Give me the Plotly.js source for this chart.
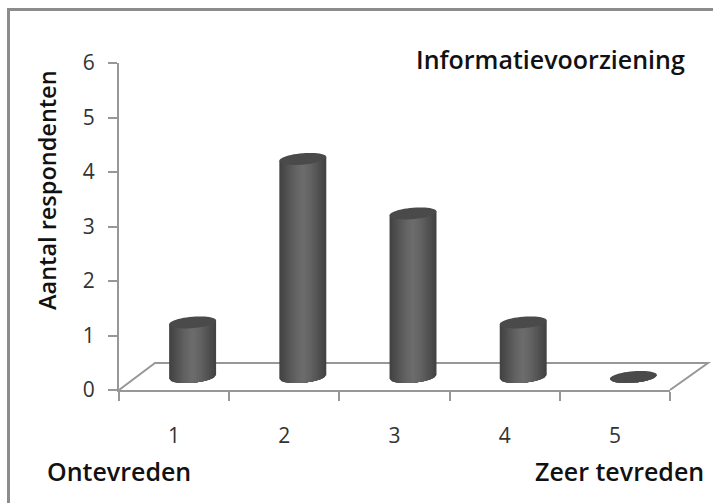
<!DOCTYPE html>
<html>
<head>
<meta charset="utf-8">
<script src="https://cdn.plot.ly/plotly-3.0.1.min.js"></script>
<style>html,body{margin:0;padding:0;background:#fff;overflow:hidden}</style>
</head>
<body>
<div id="chart" style="width:713px;height:503px"></div>
<script>
// Survey scores for the "Informatievoorziening" question
const categories = [1, 2, 3, 4, 5];
const respondents = [1, 4, 3, 1, 0];
const yTicks = [0, 1, 2, 3, 4, 5, 6];
const boundaries = [0.5, 1.5, 2.5, 3.5, 4.5, 5.5];
const chartTitle = 'Informatievoorziening';
const yTitle = 'Aantal respondenten';
const lowLabel = 'Ontevreden';
const highLabel = 'Zeer tevreden';

// Plot area in pixels
const W = 713, H = 503, L = 119, T = 63, PW = 551, PH = 327;
const px = v => (v - L) / PW;
const py = v => 1 - (v - T) / PH;

// Pseudo-3D geometry, in axis units
const DEPTH_X = 0.168, DEPTH_Y = 0.24;    // cylinders stand in the middle of the floor
const RX = 0.213, RY = 0.105, TILT = 0.035; // ellipse radii and slant
const AXIS = '#979797';
const FONT = '"Open Sans", sans-serif';
const shades = ['#434343', '#484848', '#4d4d4d', '#525252', '#575757', '#5c5c5c', '#616161', '#656565', '#686868', '#6b6b6b'];
const TOP_COLOR = '#4a4a4a';

const centers = categories.map(c => c + DEPTH_X);

// Cylinder wall clipped to the fraction w of its width: a lower arc and a slanted top edge
function wall(w) {
  const xs = [], ys = [];
  centers.forEach((cx, i) => {
    const top = respondents[i] + DEPTH_Y;
    for (let k = 0; k <= 24; k++) {
      const u = -w + 2 * w * k / 24;
      xs.push(cx + RX * u);
      ys.push(DEPTH_Y + TILT * u - RY * Math.sqrt(1 - u * u));
    }
    xs.push(cx + RX * w, cx - RX * w, cx + RX * -w, null);
    ys.push(top + TILT * w, top - TILT * w, DEPTH_Y - TILT * w, null);
  });
  return {x: xs, y: ys};
}

// Slanted ellipse closing each cylinder at the height of its value
function caps() {
  const xs = [], ys = [];
  centers.forEach((cx, i) => {
    const cy = respondents[i] + DEPTH_Y;
    for (let k = 0; k <= 48; k++) {
      const t = 2 * Math.PI * k / 48;
      xs.push(cx + RX * Math.cos(t));
      ys.push(cy + RY * Math.sin(t) + TILT * Math.cos(t));
    }
    xs.push(null);
    ys.push(null);
  });
  return {x: xs, y: ys};
}

const bars = {
  x: centers, y: respondents, base: DEPTH_Y, width: 0.2,
  type: 'bar', hoverinfo: 'y', showlegend: false,
  marker: {color: shades[5], line: {width: 0}}
};

const walls = shades.map((color, i) => Object.assign(wall(1 - i / shades.length), {
  type: 'scatter', mode: 'none', fill: 'toself', fillcolor: color,
  hoverinfo: 'skip', showlegend: false
}));

const tops = Object.assign(caps(), {
  type: 'scatter', mode: 'none', fill: 'toself', fillcolor: TOP_COLOR,
  hoverinfo: 'skip', showlegend: false
});

function label(text, x, y, size, extra) {
  return Object.assign({
    text, x: px(x), y: py(y), xref: 'paper', yref: 'paper', showarrow: false,
    xanchor: 'left', yanchor: 'middle',
    font: {family: FONT, size, color: '#111111', weight: 600}
  }, extra);
}

const layout = {
  width: W, height: H, autosize: false,
  margin: {l: L, t: T, r: W - L - PW, b: H - T - PH, pad: 0},
  paper_bgcolor: '#ffffff', plot_bgcolor: 'rgba(0,0,0,0)',
  showlegend: false, barmode: 'overlay',
  xaxis: {
    range: [0.5, 5.5], tickmode: 'array', tickvals: categories, ticktext: categories.map(String),
    ticks: 'outside', ticklen: 26, tickcolor: 'rgba(0,0,0,0)', showgrid: false, zeroline: false,
    showline: true, linecolor: AXIS, linewidth: 2,
    tickfont: {family: FONT, size: 21, color: '#333333'},
    minor: {tickmode: 'array', tickvals: boundaries, ticks: 'outside', ticklen: 9, tickwidth: 2, tickcolor: AXIS, showgrid: false}
  },
  yaxis: {
    range: [0, 6], tickmode: 'array', tickvals: yTicks,
    ticks: 'outside', ticklen: 9, tickwidth: 2, tickcolor: AXIS, showgrid: false, zeroline: false,
    showline: true, linecolor: AXIS, linewidth: 2, ticklabelstandoff: 9,
    tickfont: {family: FONT, size: 21, color: '#333333'}
  },
  shapes: [
    {type: 'path', xref: 'paper', yref: 'paper', layer: 'below', line: {color: '#8c8c8c', width: 3},
     path: `M ${px(8.5)} ${py(H)} L ${px(8.5)} ${py(9.5)} L ${px(W)} ${py(9.5)}`},
    {type: 'path', xref: 'paper', yref: 'paper', layer: 'below', line: {color: AXIS, width: 2},
     path: `M ${px(119)} ${py(390)} L ${px(155)} ${py(363)} L ${px(708)} ${py(363)} L ${px(670)} ${py(390)}`}
  ],
  annotations: [
    label(chartTitle, 414, 59, 25, {}),
    label(lowLabel, 45, 471, 25, {}),
    label(highLabel, 533, 471, 25, {}),
    label(yTitle, 47, 190, 23.5, {textangle: -90, xanchor: 'center'})
  ]
};

Plotly.newPlot('chart', [bars, ...walls, tops], layout, {displayModeBar: false, staticPlot: true});
</script>
</body>
</html>
